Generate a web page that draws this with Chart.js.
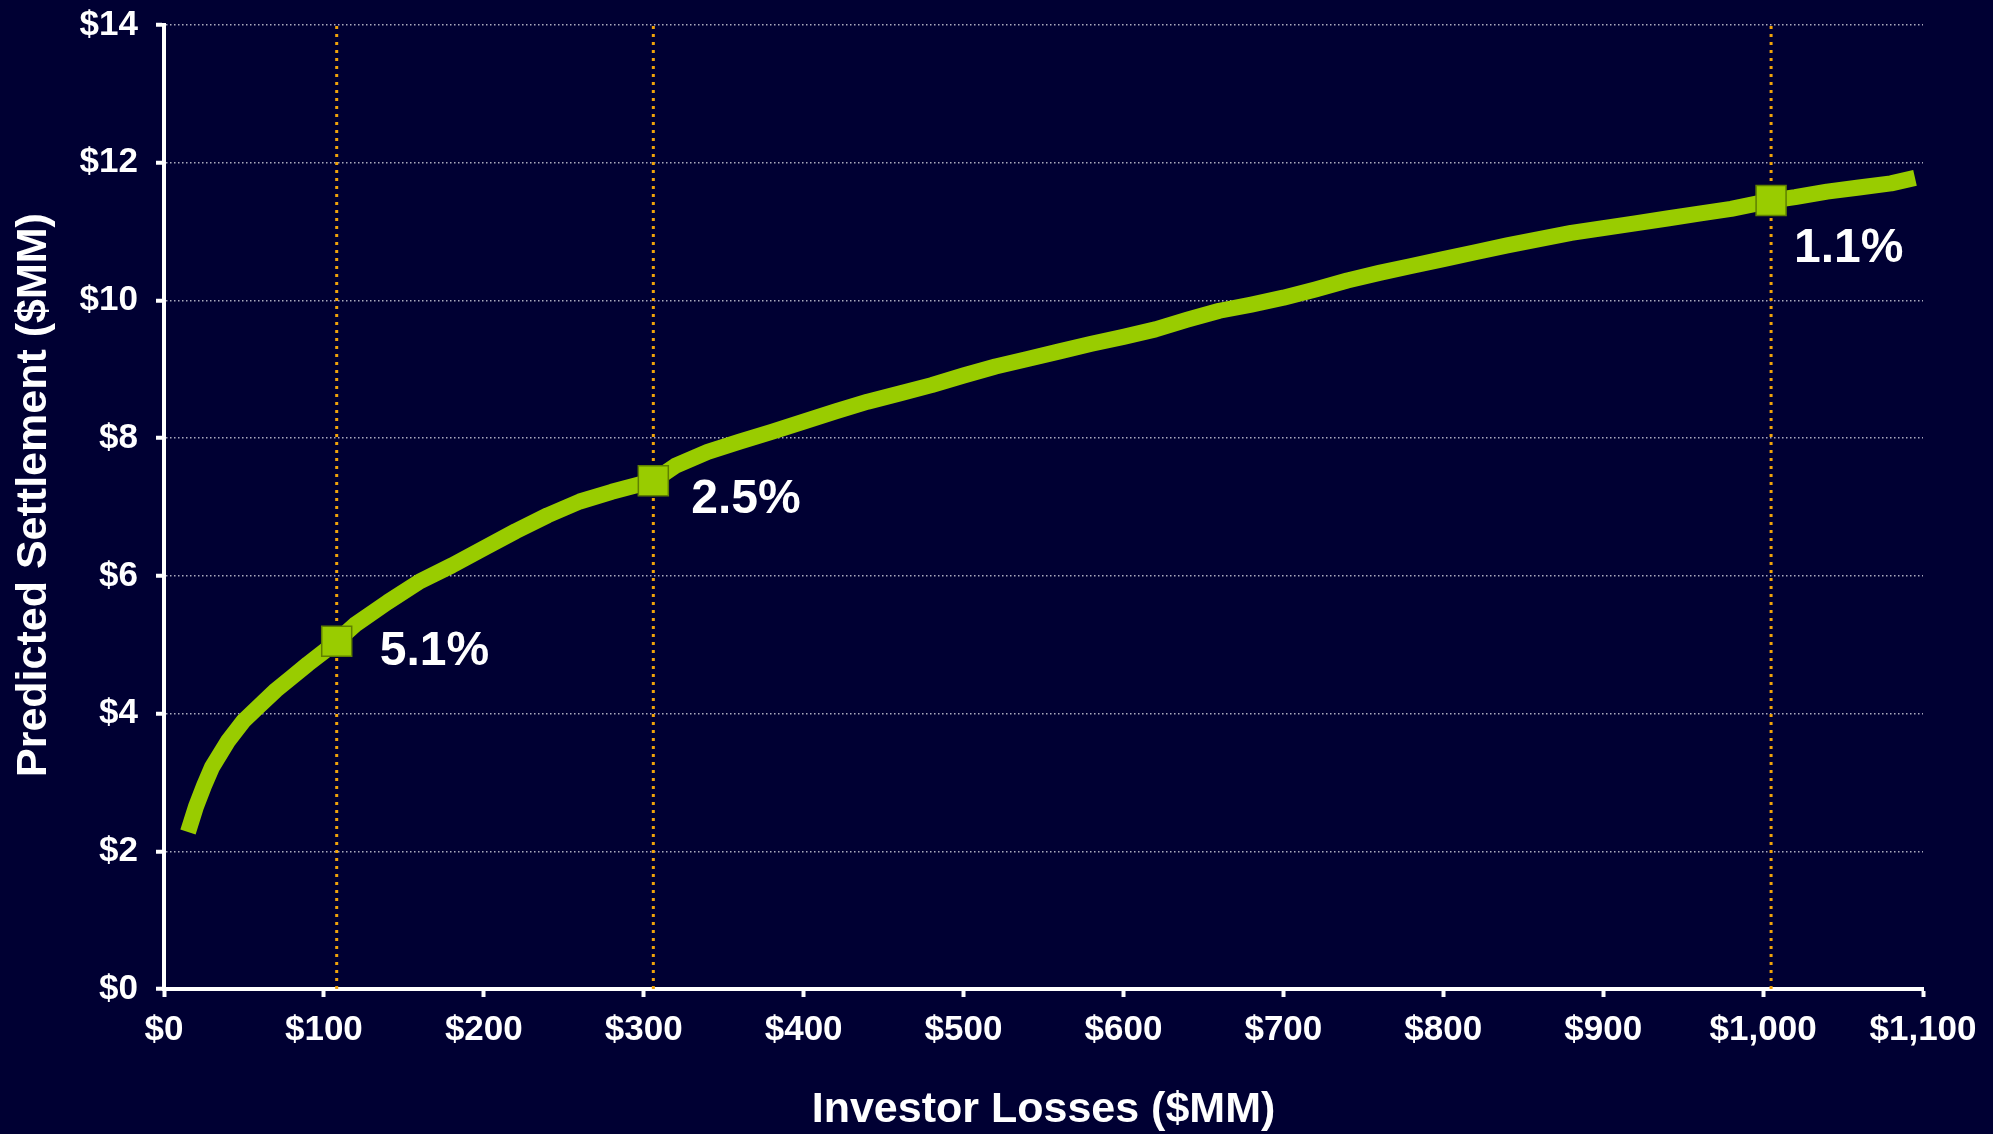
<!DOCTYPE html>
<html>
<head>
<meta charset="utf-8">
<title>Predicted Settlement vs Investor Losses</title>
<script src="https://cdn.jsdelivr.net/npm/chart.js@4.4.1/dist/chart.umd.min.js"></script>
<style>
  html, body { margin: 0; padding: 0; background: #000033; }
  #wrap { position: relative; width: 1993px; height: 1134px; }
</style>
</head>
<body>
<div id="wrap"><canvas id="settlementChart"></canvas></div>
<script>
// Investor losses ($MM) along the fitted curve
const lossesMM = [15, 20, 25, 30, 40, 50, 60, 70, 80, 90, 100, 108, 120, 140, 160, 180, 200, 220, 240, 260,
  280, 306, 320, 340, 360, 380, 400, 420, 440, 460, 480, 500, 520, 540, 560, 580, 600, 620, 640, 660,
  680, 700, 720, 740, 760, 780, 800, 820, 840, 860, 880, 900, 920, 940, 960, 980, 1005, 1020, 1040, 1060,
  1080, 1095];

// Predicted settlement ($MM) at each loss level
const settlementMM = [2.28, 2.65, 2.95, 3.22, 3.60, 3.90, 4.12, 4.34, 4.53, 4.72, 4.90, 5.05, 5.30, 5.62, 5.92, 6.15, 6.40, 6.65, 6.88, 7.08,
  7.22, 7.38, 7.60, 7.80, 7.95, 8.09, 8.24, 8.39, 8.53, 8.65, 8.77, 8.91, 9.04, 9.15, 9.26, 9.37, 9.47, 9.58, 9.72, 9.85,
  9.94, 10.04, 10.16, 10.29, 10.40, 10.50, 10.60, 10.70, 10.80, 10.89, 10.98, 11.05, 11.12, 11.19, 11.26, 11.33, 11.45, 11.50, 11.58, 11.64,
  11.70, 11.78];

// Highlighted loss levels and the settlement ratio shown next to each
const markerLosses = [108, 306, 1005];
const markerLabels = ['5.1%', '2.5%', '1.1%'];

// Axis tick values
const xTicks = [0, 100, 200, 300, 400, 500, 600, 700, 800, 900, 1000, 1100];
const yTicks = [0, 2, 4, 6, 8, 10, 12, 14];

const FONT = "'Liberation Sans', Arial, Helvetica, sans-serif";
Chart.defaults.font.family = FONT;
Chart.defaults.font.weight = 'bold';
Chart.defaults.color = '#ffffff';

const curvePoints = lossesMM.map((x, i) => ({ x: x, y: settlementMM[i] }));
const markerPoints = markerLosses.map(x => ({ x: x, y: settlementMM[lossesMM.indexOf(x)] }));

// dotted drop lines through each highlighted point
const guideSets = markerLosses.map(x => ({
  data: [{ x: x, y: yTicks[0] }, { x: x, y: yTicks[yTicks.length - 1] }],
  showLine: true,
  borderColor: '#F0A30A',
  borderWidth: 3,
  borderDash: [3, 5],
  pointRadius: 0
}));

// pixel offsets of the ratio text from its marker
const labelOffsets = [[43, 10], [38, 19], [23, 48]];

const ratioLabels = {
  id: 'ratioLabels',
  afterDatasetsDraw(chart) {
    const meta = chart.getDatasetMeta(0);
    const ctx = chart.ctx;
    ctx.save();
    ctx.font = 'bold 48px ' + FONT;
    ctx.fillStyle = '#ffffff';
    ctx.textAlign = 'left';
    ctx.textBaseline = 'middle';
    meta.data.forEach((pt, i) => {
      const [dx, dy] = labelOffsets[i];
      ctx.fillText(markerLabels[i], pt.x + dx, pt.y + dy);
    });
    ctx.restore();
  }
};

const config = {
  type: 'scatter',
  data: {
    datasets: [
      {
        data: markerPoints,
        showLine: false,
        pointStyle: 'rect',
        pointRadius: 21.2,
        pointBackgroundColor: '#99CC00',
        pointBorderColor: '#5F8000',
        pointBorderWidth: 1.5
      },
      {
        data: curvePoints,
        showLine: true,
        borderColor: '#99CC00',
        borderWidth: 16,
        borderJoinStyle: 'round',
        pointRadius: 0,
        tension: 0
      },
      ...guideSets
    ]
  },
  options: {
    responsive: true,
    maintainAspectRatio: false,
    animation: false,
    events: [],
    layout: { padding: { top: 25, right: 70, bottom: 0, left: 0 } },
    plugins: {
      legend: { display: false },
      tooltip: { enabled: false }
    },
    scales: {
      x: {
        type: 'linear',
        min: 0,
        max: 1100,
        afterBuildTicks: s => { s.ticks = xTicks.map(v => ({ value: v })); },
        afterFit: s => { s.height = 145; },
        grid: { drawOnChartArea: false, drawTicks: true, tickLength: 8, tickWidth: 4, tickColor: '#ffffff' },
        border: { display: true, color: '#ffffff', width: 4 },
        ticks: {
          color: '#ffffff',
          font: { size: 35, weight: 'bold' },
          padding: 12,
          maxRotation: 0,
          autoSkip: false,
          callback: v => '$' + v.toLocaleString('en-US')
        },
        title: {
          display: true,
          text: 'Investor Losses ($MM)',
          color: '#ffffff',
          font: { size: 43, weight: 'bold', lineHeight: 1.1 },
          padding: { top: 0, bottom: 0 }
        }
      },
      y: {
        type: 'linear',
        min: 0,
        max: 14,
        afterBuildTicks: s => { s.ticks = yTicks.map(v => ({ value: v })); },
        afterFit: s => { s.width = 164; },
        grid: {
          color: c => (c.tick && c.tick.value === 0 ? 'rgba(0,0,0,0)' : 'rgba(190,190,205,0.9)'),
          lineWidth: 1.5,
          drawTicks: true,
          tickLength: 8,
          tickWidth: 4,
          tickColor: '#ffffff'
        },
        border: { display: true, color: '#ffffff', width: 4, dash: [1.5, 2.5] },
        ticks: {
          color: '#ffffff',
          // small lineHeight keeps the end labels from pushing the plot edges inward
          font: { size: 35, weight: 'bold', lineHeight: 0.3 },
          padding: 18,
          callback: v => '$' + v
        },
        title: {
          display: true,
          // leading spaces nudge the rotated title a little above centre
          text: '  Predicted Settlement ($MM)',
          color: '#ffffff',
          font: { size: 43, weight: 'bold' },
          padding: { top: 8, bottom: 0 }
        }
      }
    }
  },
  plugins: [ratioLabels]
};

document.addEventListener('DOMContentLoaded', () => {
  const canvas = document.getElementById('settlementChart');
  if (canvas) {
    new Chart(canvas, config);
  } else {
    console.error('Canvas element with id "settlementChart" not found.');
  }
});
</script>
</body>
</html>
